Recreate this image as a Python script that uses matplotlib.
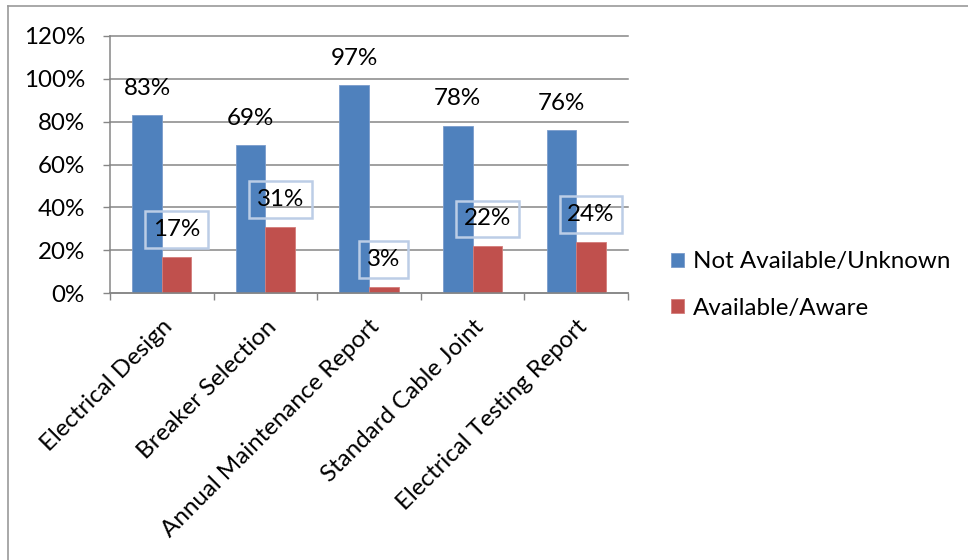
import matplotlib
matplotlib.use("Agg")
import matplotlib.pyplot as plt
from matplotlib.lines import Line2D
import numpy as np

categories = ["Electrical Design", "Breaker Selection", "Annual Maintenance Report",
              "Standard Cable Joint", "Electrical Testing Report"]
series_names = ["Not Available/Unknown", "Available/Aware"]
not_available = [0.83, 0.69, 0.97, 0.78, 0.76]
available = [0.17, 0.31, 0.03, 0.22, 0.24]
y_ticks = [0.0, 0.2, 0.4, 0.6, 0.8, 1.0, 1.2]
y_tick_labels = ["0%", "20%", "40%", "60%", "80%", "100%", "120%"]

BLUE = "#4F81BD"
RED = "#C0504D"
GRID = "#868686"
FONT = "Lato"

W, H = 968, 560
fig = plt.figure(figsize=(W / 100, H / 100), dpi=100)
fig.patch.set_facecolor("white")

# font size tuned so the legend text width matches the reference
tmp = fig.text(0, 0, "Not Available/Unknown", fontsize=10, family=FONT)
r = fig.canvas.get_renderer()
fs = 10 * 257 / tmp.get_window_extent(r).width
tmp.remove()

ax = fig.add_axes([110 / W, 1 - 293 / H, (628 - 110) / W, (293 - 36) / H])

x = np.arange(len(categories))
bw = 0.2857
b1 = ax.bar(x - bw / 2, not_available, bw, color=BLUE, edgecolor="#7a9ccc", linewidth=0.6,
            label=series_names[0], zorder=2)
b2 = ax.bar(x + bw / 2, available, bw, color=RED, edgecolor="#d47d7a", linewidth=0.6,
            label=series_names[1], zorder=2)

for xi, v in zip(x - bw / 2, not_available):
    ax.annotate(f"{round(v * 100)}%", (xi, v), xytext=(0, 19.5), textcoords="offset points",
                ha="center", va="center", fontsize=fs, family=FONT, color="black", zorder=4)
for xi, v in zip(x + bw / 2, available):
    ax.annotate(f"{round(v * 100)}%", (xi, v), xytext=(0, 19.5), textcoords="offset points",
                ha="center", va="center", fontsize=fs, family=FONT, color="black", zorder=4,
                bbox=dict(boxstyle="square,pad=0.32", facecolor="none",
                          edgecolor="#bccde6", linewidth=1.8))

ax.set_xlim(-0.5, len(categories) - 0.5)
ax.set_ylim(0, 1.2)
ax.set_yticks(y_ticks)
ax.set_yticklabels(y_tick_labels, fontsize=fs, family=FONT)
ax.tick_params(axis="y", length=5, width=1, color=GRID, pad=13, direction="out")

ax.set_xticks(x)
ax.set_xticklabels(categories, fontsize=fs, family=FONT, rotation=45, ha="right", va="top",
                   rotation_mode="anchor")
ax.tick_params(axis="x", which="major", length=0, pad=16.5)
ax.set_xticks(np.arange(-0.5, len(categories), 1), minor=True)
ax.tick_params(axis="x", which="minor", length=5, width=1, color=GRID, direction="out")

ax.grid(axis="y", color=GRID, linewidth=1.1, zorder=0)
ax.set_axisbelow(True)
for gl in ax.get_ygridlines():
    gl.set_clip_on(False)
for s in ["top", "right"]:
    ax.spines[s].set_visible(False)
for s in ["left", "bottom"]:
    ax.spines[s].set_color(GRID)
    ax.spines[s].set_linewidth(1.1)

leg = ax.legend(handles=[b1, b2], loc="center left", bbox_to_anchor=(671 / W, 1 - 285 / H),
                bbox_transform=fig.transFigure, frameon=False, fontsize=fs,
                prop={"family": FONT, "size": fs}, handlelength=0.55, handleheight=0.55,
                handletextpad=0.35, labelspacing=1.05, borderpad=0, borderaxespad=0)

# chart-area border (left and top edges visible in reference)
fig.add_artist(Line2D([8 / W, 8 / W], [0, 1 - 6 / H], transform=fig.transFigure,
                      color="#9a9a9a", linewidth=1.2))
fig.add_artist(Line2D([8 / W, 1], [1 - 6 / H, 1 - 6 / H], transform=fig.transFigure,
                      color="#9a9a9a", linewidth=1.2))

fig.savefig("out.png", dpi=100)
